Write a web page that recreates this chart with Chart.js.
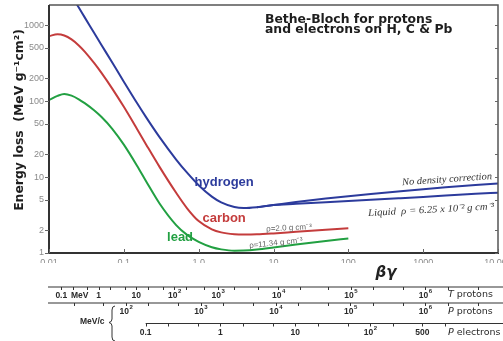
<!DOCTYPE html>
<html>
<head>
<meta charset="utf-8">
<script src="https://cdn.jsdelivr.net/npm/chart.js@4.4.1/dist/chart.umd.min.js"></script>
<style>
  html, body { margin: 0; padding: 0; background: #ffffff; }
  #wrap { width: 503px; height: 341px; position: relative; }
</style>
</head>
<body>
<div id="wrap"><canvas id="c" width="503" height="341"></canvas></div>
<script>
// beta*gamma grid shared by all curves
const betaGamma = [0.01, 0.013, 0.016, 0.02, 0.025, 0.03, 0.04, 0.05, 0.07, 0.1,
                   0.15, 0.2, 0.3, 0.5, 0.7, 1, 1.5, 2, 3, 4,
                   6, 10, 20, 50, 100, 200, 500, 1000, 2000, 5000, 10000];

// Energy loss, MeV g^-1 cm^2
const hydrogenLiquid = [null, null, null, 2441, 1701, 1265, 794, 553, 321, 180,
                        94.2, 60.5, 33.5, 17.0, 11.4, 7.8, 5.52, 4.64, 4.03, 3.91,
                        4.01, 4.28, 4.435, 4.654, 4.83, 5.015, 5.274, 5.48, 5.695, 6.03, 6.23];
const hydrogenNoDensity = [null, null, null, null, null, null, null, null, null, null,
                           null, null, null, null, null, null, null, null, null, null,
                           4.01, 4.28, 4.68, 5.20, 5.60, 6.00, 6.52, 6.92, 7.32, 7.84, 8.24];
const carbon = [716, 758, 730, 648, 540, 448, 318, 237, 146, 84,
                43, 26.5, 13.6, 6.2, 3.88, 2.63, 2.05, 1.87, 1.77, 1.75,
                1.76, 1.81, 1.90, 2.02, 2.12, null, null, null, null, null, null];
const lead = [103, 117, 124, 118, 105.6, 93.8, 75.6, 62.1, 43.2, 26.7,
              14.1, 8.67, 4.48, 2.33, 1.73, 1.40, 1.19, 1.116, 1.07, 1.075,
              1.11, 1.18, 1.29, 1.44, 1.555, null, null, null, null, null, null];

// Axis ticks
const xTickValues = [0.01, 0.1, 1, 10, 100, 1000, 10000];
const xTickLabels = ['0.01', '0.1', '1.0', '10', '100', '1000', '10 000'];
const yTickValues = [1, 2, 5, 10, 20, 50, 100, 200, 500, 1000];

// Secondary kinetic-energy / momentum scales (MeV, MeV/c)
const tProtonValues = [0.1, 1, 10, 100, 1e3, 1e4, 1e5, 1e6];
const tProtonLabels = [['0.1'], ['1'], ['10'], ['10', '2'], ['10', '3'], ['10', '4'], ['10', '5'], ['10', '6']];
const pProtonValues = [100, 1e3, 1e4, 1e5, 1e6];
const pProtonLabels = [['10', '2'], ['10', '3'], ['10', '4'], ['10', '5'], ['10', '6']];
const pElectronValues = [0.1, 1, 10, 100, 500];
const pElectronLabels = [['0.1'], ['1'], ['10'], ['10', '2'], ['500']];

const M_PROTON = 938.272;
const M_ELECTRON = 0.511;

function points(ys) {
  const out = [];
  ys.forEach((y, i) => { if (y !== null) out.push({ x: betaGamma[i], y }); });
  return out;
}

const BLUE = '#2c3b9c', RED = '#c43c3c', GREEN = '#22a042';

function curve(label, ys, color) {
  return {
    label, data: points(ys), borderColor: color, borderWidth: 2,
    pointRadius: 0, fill: false, cubicInterpolationMode: 'monotone'
  };
}

function text(ctx, str, x, y, o) {
  ctx.save();
  ctx.translate(x, y);
  if (o.angle) ctx.rotate(o.angle * Math.PI / 180);
  ctx.font = o.font;
  ctx.fillStyle = o.color || '#222';
  ctx.textAlign = o.align || 'center';
  ctx.textBaseline = o.baseline || 'middle';
  if (o.width) {
    const w = ctx.measureText(str).width;
    ctx.scale(o.width / w, 1);
  }
  ctx.fillText(str, 0, 0);
  ctx.restore();
}

// "10" with a raised exponent, centred on x
function powerLabel(ctx, parts, x, y, font, supFont, color) {
  ctx.save();
  ctx.fillStyle = color;
  ctx.textBaseline = 'middle';
  ctx.textAlign = 'left';
  ctx.font = font;
  const wb = ctx.measureText(parts[0]).width;
  let we = 0;
  if (parts[1]) { ctx.font = supFont; we = ctx.measureText(parts[1]).width; }
  const x0 = x - (wb + we) / 2;
  ctx.font = font;
  ctx.fillText(parts[0], x0, y);
  if (parts[1]) { ctx.font = supFont; ctx.fillText(parts[1], x0 + wb + 0.5, y - 4); }
  ctx.restore();
}

function series125(lo, hi) {
  const out = [];
  for (let d = Math.floor(Math.log10(lo)); d <= Math.ceil(Math.log10(hi)); d++) {
    for (const m of [1, 2, 5]) {
      const v = m * Math.pow(10, d);
      if (v >= lo * 0.999 && v <= hi * 1.001) out.push(v);
    }
  }
  return out;
}

const decorations = {
  id: 'decorations',
  afterDraw(chart) {
    const ctx = chart.ctx;
    const xs = chart.scales.x, ys = chart.scales.y;
    const { left, right, top, bottom } = chart.chartArea;
    const px = v => xs.getPixelForValue(v);
    const py = v => ys.getPixelForValue(v);

    // Frame
    ctx.save();
    ctx.strokeStyle = '#555';
    ctx.lineWidth = 1.5;
    ctx.beginPath();
    ctx.moveTo(left, top); ctx.lineTo(right, top); ctx.lineTo(right, bottom);
    ctx.stroke();
    ctx.strokeStyle = '#333';
    ctx.lineWidth = 2;
    ctx.beginPath();
    ctx.moveTo(left, top); ctx.lineTo(left, bottom); ctx.lineTo(right + 1, bottom);
    ctx.stroke();

    // Tick marks
    ctx.lineWidth = 1;
    ctx.strokeStyle = '#666';
    ctx.beginPath();
    yTickValues.forEach(v => {
      const y = Math.round(py(v)) + 0.5;
      ctx.moveTo(left - 4, y); ctx.lineTo(left, y);
      ctx.moveTo(right - 3, y); ctx.lineTo(right, y);
    });
    xTickValues.forEach(v => {
      const x = Math.round(px(v)) + 0.5;
      ctx.moveTo(x, bottom - 4); ctx.lineTo(x, bottom);
    });
    ctx.stroke();
    ctx.restore();

    // Title
    const titleFont = 'bold 12.4px "DejaVu Sans"';
    text(ctx, 'Bethe-Bloch for protons', 265, 20, { font: titleFont, align: 'left', color: '#1e1e1e' });
    text(ctx, 'and electrons on H, C & Pb', 265, 30, { font: titleFont, align: 'left', color: '#1e1e1e' });

    // Y axis title
    text(ctx, 'Energy loss  (MeV g\u207B\u00B9cm\u00B2)', 20, 120,
         { font: 'bold 12.4px "DejaVu Sans"', angle: -90, color: '#1e1e1e' });

    // beta-gamma axis title
    text(ctx, '\u03B2\u03B3', 386, 273, { font: 'bold italic 15px "DejaVu Sans"', color: '#222' });

    // Curve labels
    text(ctx, 'hydrogen', px(2.19), py(8.6), { font: 'bold 13px "Liberation Sans"', color: BLUE });
    text(ctx, 'carbon', px(2.19), py(2.89), { font: 'bold 13px "Liberation Sans"', color: RED });
    text(ctx, 'lead', px(0.564), py(1.62), { font: 'bold 13px "Liberation Sans"', color: GREEN });

    // Density notes
    text(ctx, '\u03C1=2.0 g cm\u207B\u00B3', px(16.1), py(2.13),
         { font: '8px "Liberation Sans"', color: '#666', angle: -3 });
    text(ctx, '\u03C1=11.34 g cm\u207B\u00B3', px(10.8), py(1.35),
         { font: '8px "Liberation Sans"', color: '#666', angle: -6 });
    text(ctx, 'No density correction', px(2084), py(9.27),
         { font: 'italic 10px "Liberation Serif"', color: '#333', angle: -4, width: 90 });
    text(ctx, 'Liquid  \u03C1 = 6.25 x 10\u207B\u00B2 g cm\u207B\u00B3', px(1274), py(3.68),
         { font: 'italic 10px "Liberation Serif"', color: '#333', angle: -3, width: 126 });

    // Secondary scales below the plot
    const numFont = 'bold 8.5px "Liberation Sans"';
    const supFont = 'bold 6px "Liberation Sans"';
    const ink = '#2a2a2a';
    const tToBG = T => { const g = 1 + T / M_PROTON; return Math.sqrt(g * g - 1); };
    const pToBG = p => p / M_PROTON;
    const eToBG = p => p / M_ELECTRON;

    function scaleLine(y, x0, tickVals, conv) {
      ctx.save();
      ctx.strokeStyle = '#333';
      ctx.lineWidth = 1.2;
      ctx.beginPath();
      ctx.moveTo(x0, y); ctx.lineTo(503, y);
      ctx.stroke();
      ctx.lineWidth = 1;
      ctx.beginPath();
      tickVals.forEach(v => {
        const x = Math.round(px(conv(v))) + 0.5;
        if (x >= x0 && x <= 503) { ctx.moveTo(x, y); ctx.lineTo(x, y + 3); }
      });
      ctx.stroke();
      ctx.restore();
    }

    scaleLine(287, 48, series125(0.1, 5e6), tToBG);
    scaleLine(303, 48, series125(20, 5e6), pToBG);
    scaleLine(323.5, px(eToBG(0.1)), series125(0.1, 1000), eToBG);

    tProtonValues.forEach((v, i) => powerLabel(ctx, tProtonLabels[i], px(tToBG(v)), 295.5, numFont, supFont, ink));
    text(ctx, 'MeV', 71, 295.5, { font: numFont, align: 'left', color: ink });
    pProtonValues.forEach((v, i) => powerLabel(ctx, pProtonLabels[i], px(pToBG(v)), 311.5, numFont, supFont, ink));
    pElectronValues.forEach((v, i) => powerLabel(ctx, pElectronLabels[i], px(eToBG(v)), 332.5, numFont, supFont, ink));

    const nameFont = '9.5px "DejaVu Sans"';
    const nameItal = 'italic 9.5px "DejaVu Sans"';
    [['T', ' protons', 295], ['P', ' protons', 312], ['P', ' electrons', 333]].forEach(([a, b, y]) => {
      ctx.save();
      ctx.fillStyle = ink; ctx.textBaseline = 'middle'; ctx.textAlign = 'left';
      ctx.font = nameItal; ctx.fillText(a, 448, y);
      const w = ctx.measureText(a).width;
      ctx.font = nameFont; ctx.fillText(b, 448 + w, y);
      ctx.restore();
    });

    // MeV/c with brace
    text(ctx, 'MeV/c', 80, 322, { font: numFont, align: 'left', color: ink });
    ctx.save();
    ctx.strokeStyle = '#333';
    ctx.lineWidth = 1;
    ctx.beginPath();
    ctx.moveTo(115, 306);
    ctx.quadraticCurveTo(112, 306, 112, 310);
    ctx.lineTo(112, 319);
    ctx.quadraticCurveTo(112, 322, 109, 322.5);
    ctx.quadraticCurveTo(112, 323, 112, 326);
    ctx.lineTo(112, 337);
    ctx.quadraticCurveTo(112, 341, 115, 341);
    ctx.stroke();
    ctx.restore();
  }
};

const chart = new Chart(document.getElementById('c').getContext('2d'), {
  type: 'line',
  data: {
    datasets: [
      curve('hydrogen', hydrogenLiquid, BLUE),
      curve('hydrogen, no density correction', hydrogenNoDensity, BLUE),
      curve('carbon', carbon, RED),
      curve('lead', lead, GREEN)
    ]
  },
  options: {
    responsive: false,
    animation: false,
    devicePixelRatio: 1,
    layout: { padding: { left: 0, right: 5, top: 5, bottom: 78 } },
    plugins: { legend: { display: false }, tooltip: { enabled: false } },
    scales: {
      x: {
        type: 'logarithmic', min: 0.01, max: 10000,
        afterBuildTicks: s => { s.ticks = xTickValues.map(v => ({ value: v })); },
        afterFit: s => { s.height = 10; s.paddingLeft = 0; s.paddingRight = 0; },
        ticks: {
          autoSkip: false, maxRotation: 0, padding: 4, color: '#8a8a8a',
          font: { size: 9, family: 'Liberation Sans' },
          callback: (v, i) => xTickLabels[i]
        },
        grid: { display: false, drawTicks: false },
        border: { display: false }
      },
      y: {
        type: 'logarithmic', min: 1, max: 1840,
        afterBuildTicks: s => { s.ticks = yTickValues.map(v => ({ value: v })); },
        afterFit: s => { s.width = 49; s.paddingTop = 0; s.paddingBottom = 0; },
        ticks: {
          autoSkip: false, padding: 5, color: '#8a8a8a',
          font: { size: 9, family: 'Liberation Sans' },
          callback: v => String(v)
        },
        grid: { display: false, drawTicks: false },
        border: { display: false }
      }
    }
  },
  plugins: [decorations]
});
</script>
</body>
</html>
